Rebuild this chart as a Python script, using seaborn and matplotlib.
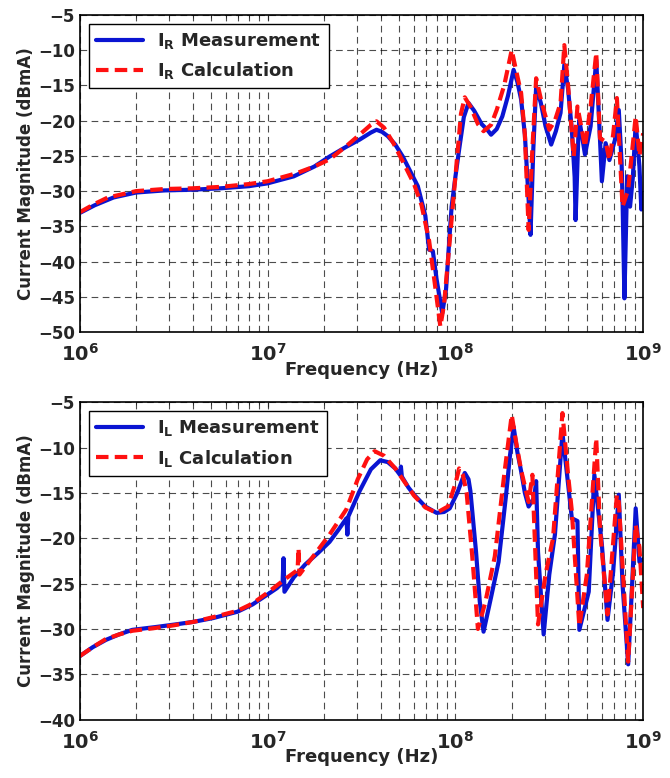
import numpy as np
import pandas as pd
import matplotlib
matplotlib.use("Agg")
import matplotlib.pyplot as plt
import seaborn as sns
from matplotlib.ticker import FixedLocator, FuncFormatter, LogLocator, NullFormatter

# values, frequency given as log10(Hz)
ir_meas_lgf = [6.00, 6.08, 6.18, 6.30, 6.45, 6.60, 6.75, 6.90, 7.00, 7.14, 7.25, 7.33, 7.42, 7.49,
               7.55, 7.58, 7.61, 7.64, 7.68, 7.72, 7.76, 7.80, 7.84, 7.86, 7.88, 7.90, 7.93, 7.95,
               7.97, 7.98, 8.00, 8.02, 8.045, 8.07, 8.10, 8.14, 8.17, 8.19, 8.22, 8.25, 8.28, 8.31,
               8.33, 8.35, 8.37, 8.39, 8.40, 8.415, 8.43, 8.455, 8.48, 8.51, 8.535, 8.56, 8.58, 8.60,
               8.62, 8.635, 8.64, 8.655, 8.66, 8.69, 8.72, 8.75, 8.77, 8.78, 8.80, 8.82, 8.85, 8.87,
               8.885, 8.89, 8.90, 8.915, 8.93, 8.945, 8.96, 8.98, 8.99, 9.00]
ir_meas_db = [-33.1, -32.0, -30.9, -30.2, -29.9, -29.8, -29.6, -29.3, -28.9, -27.9, -26.5, -25.1, -23.7, -22.7,
              -21.7, -21.3, -21.6, -22.2, -23.4, -25.1, -27.2, -29.3, -33.5, -38.3, -38.5, -42.5, -47.3, -44.0,
              -36.0, -32.2, -28.0, -24.1, -19.5, -17.5, -18.6, -20.5, -21.3, -22.0, -21.2, -19.4, -16.5, -12.8,
              -14.5, -17.0, -22.0, -31.2, -36.2, -24.0, -15.2, -17.5, -20.8, -23.4, -21.5, -18.9, -12.1, -15.5,
              -21.3, -28.0, -34.1, -22.0, -19.9, -24.8, -20.8, -11.4, -22.7, -28.6, -23.2, -25.6, -22.7, -18.5,
              -26.0, -31.2, -45.2, -27.9, -32.2, -28.0, -20.4, -26.5, -32.6, -30.3]

ir_calc_lgf = [6.00, 6.08, 6.15, 6.30, 6.45, 6.60, 6.75, 6.90, 7.00, 7.15, 7.25, 7.33, 7.42, 7.49,
               7.55, 7.58, 7.62, 7.67, 7.72, 7.78, 7.82, 7.86, 7.89, 7.92, 7.94, 7.96, 7.99, 8.01,
               8.03, 8.05, 8.08, 8.12, 8.15, 8.19, 8.22, 8.26, 8.30, 8.32, 8.35, 8.37, 8.39, 8.41,
               8.43, 8.46, 8.50, 8.53, 8.56, 8.58, 8.60, 8.63, 8.65, 8.69, 8.72, 8.75, 8.77, 8.80,
               8.82, 8.84, 8.86, 8.89, 8.92, 8.96, 8.98, 9.00]
ir_calc_db = [-33.0, -31.8, -30.9, -30.0, -29.7, -29.6, -29.4, -29.0, -28.6, -27.5, -26.5, -25.5, -23.6, -22.0,
              -20.6, -20.1, -21.0, -23.2, -25.8, -29.0, -32.0, -37.0, -43.0, -49.2, -46.0, -40.0, -31.0, -25.0,
              -19.0, -16.7, -18.0, -20.5, -21.5, -20.6, -18.5, -15.0, -10.0, -12.5, -16.1, -22.0, -35.5, -24.0,
              -14.0, -17.5, -21.3, -20.0, -17.5, -9.3, -15.0, -25.1, -18.0, -23.7, -18.0, -10.4, -22.5, -23.0,
              -25.6, -22.0, -16.8, -32.2, -29.8, -19.4, -25.0, -21.8]

il_meas_lgf = [6.00, 6.07, 6.14, 6.21, 6.28, 6.40, 6.51, 6.61, 6.71, 6.84, 6.92, 7.00, 7.05, 7.08,
               7.085, 7.09, 7.14, 7.20, 7.27, 7.33, 7.38, 7.42, 7.425, 7.43, 7.49, 7.55, 7.60, 7.64,
               7.68, 7.705, 7.71, 7.715, 7.75, 7.78, 7.84, 7.90, 7.94, 7.97, 8.01, 8.05, 8.07, 8.08,
               8.11, 8.13, 8.15, 8.19, 8.23, 8.27, 8.29, 8.31, 8.33, 8.35, 8.37, 8.39, 8.42, 8.43,
               8.44, 8.47, 8.50, 8.53, 8.57, 8.60, 8.62, 8.65, 8.66, 8.71, 8.74, 8.78, 8.81, 8.84,
               8.87, 8.89, 8.92, 8.94, 8.96, 8.98, 9.00]
il_meas_db = [-33.0, -32.0, -31.2, -30.6, -30.1, -29.8, -29.5, -29.2, -28.8, -28.1, -27.3, -26.2, -25.5, -24.9,
              -22.2, -25.9, -24.3, -22.9, -21.6, -20.4, -19.0, -17.8, -19.6, -17.6, -14.8, -12.4, -11.4, -11.6,
              -12.3, -13.0, -12.1, -13.2, -14.4, -15.2, -16.5, -17.2, -17.1, -16.7, -15.0, -12.8, -13.5, -14.8,
              -21.5, -27.0, -30.3, -26.5, -22.6, -15.2, -11.0, -7.7, -10.5, -12.6, -15.0, -16.5, -15.5, -13.7,
              -21.5, -30.6, -24.0, -19.6, -8.4, -14.0, -17.8, -18.1, -30.1, -25.9, -13.0, -20.7, -29.0, -23.7,
              -15.2, -25.1, -33.9, -25.5, -16.7, -22.6, -22.3]

il_calc_lgf = [6.00, 6.07, 6.14, 6.21, 6.28, 6.40, 6.50, 6.61, 6.71, 6.84, 6.92, 7.00, 7.10, 7.16,
               7.165, 7.17, 7.25, 7.33, 7.42, 7.48, 7.53, 7.57, 7.62, 7.68, 7.73, 7.78, 7.84, 7.90,
               7.96, 8.00, 8.02, 8.04, 8.06, 8.09, 8.12, 8.16, 8.21, 8.26, 8.30, 8.32, 8.35, 8.39,
               8.41, 8.44, 8.48, 8.52, 8.57, 8.60, 8.62, 8.66, 8.70, 8.75, 8.77, 8.81, 8.86, 8.87,
               8.92, 8.96, 8.98, 9.00]
il_calc_db = [-33.0, -32.0, -31.1, -30.6, -30.2, -29.9, -29.6, -29.2, -28.7, -28.0, -27.2, -26.0, -24.4, -23.5,
              -21.1, -24.0, -21.8, -19.6, -16.8, -13.5, -11.3, -10.4, -10.9, -12.3, -13.8, -15.3, -16.6, -17.2,
              -16.5, -14.0, -12.3, -13.0, -15.0, -22.0, -30.0, -27.0, -22.0, -13.0, -6.4, -9.0, -12.5, -16.0,
              -13.0, -29.5, -24.0, -20.0, -6.2, -13.0, -17.0, -29.7, -24.0, -9.0, -19.0, -28.4, -15.2, -16.0,
              -33.6, -18.5, -21.0, -27.7]

sns.set_style("white")
plt.rcParams['font.family'] = ['DejaVu Sans']
plt.rcParams['font.weight'] = 'bold'
plt.rcParams['mathtext.default'] = 'bf'

fig = plt.figure(figsize=(6.7, 7.78), dpi=100)
ax1 = fig.add_axes([0.119, 0.573, 0.841, 0.408])
ax2 = fig.add_axes([0.119, 0.075, 0.841, 0.408])

panels = [
    (ax1, ir_meas_lgf, ir_meas_db, ir_calc_lgf, ir_calc_db, 'R', (-50, -5), np.arange(-50, -4, 5)),
    (ax2, il_meas_lgf, il_meas_db, il_calc_lgf, il_calc_db, 'L', (-40, -5), np.arange(-40, -4, 5)),
]

for ax, mx, my, cx, cy, sub, ylim, yt in panels:
    meas = pd.DataFrame({'f': 10.0 ** np.array(mx), 'db': my})
    calc = pd.DataFrame({'f': 10.0 ** np.array(cx), 'db': cy})
    sns.lineplot(data=meas, x='f', y='db', ax=ax, color='#0a14d2', lw=3,
                 estimator=None, sort=False, label=r'$\mathbf{I_{%s}}$ Measurement' % sub)
    sns.lineplot(data=calc, x='f', y='db', ax=ax, color='#ff1010', lw=3, linestyle=(0, (3, 1.5)),
                 estimator=None, sort=False, label=r'$\mathbf{I_{%s}}$ Calculation' % sub)
    ax.set_xscale('log')
    ax.set_xlim(1e6, 1e9)
    ax.set_ylim(*ylim)
    ax.yaxis.set_major_locator(FixedLocator(yt))
    ax.xaxis.set_major_locator(FixedLocator([1e6, 1e7, 1e8, 1e9]))
    ax.xaxis.set_minor_locator(LogLocator(base=10, subs=np.arange(2, 10)))
    ax.xaxis.set_minor_formatter(NullFormatter())
    ax.xaxis.set_major_formatter(FuncFormatter(lambda v, p: r'$\mathbf{10^{%d}}$' % round(np.log10(v))))
    ax.grid(True, which='major', axis='both', color='black', ls=(0, (6, 4)), lw=0.8, alpha=0.7)
    ax.grid(True, which='minor', axis='x', color='black', ls=(0, (6, 4)), lw=0.8, alpha=0.7)
    ax.tick_params(axis='both', which='both', direction='in', top=True, right=True)
    ax.tick_params(axis='x', which='major', labelsize=14, pad=8)
    ax.tick_params(axis='y', labelsize=12)
    for s in ax.spines.values():
        s.set_color('black')
        s.set_linewidth(1.2)
    ax.set_xlabel('Frequency (Hz)', fontsize=13, fontweight='bold', labelpad=-3)
    ax.set_ylabel('Current Magnitude (dBmA)', fontsize=12, fontweight='bold', labelpad=2)
    leg = ax.legend(loc='upper left', fontsize=13, frameon=True, fancybox=False,
                    edgecolor='black', framealpha=1, handlelength=2.6, borderaxespad=0.5)
    leg.get_frame().set_linewidth(1.0)
    for t in leg.get_texts():
        t.set_fontweight('bold')

fig.savefig('out.png', dpi=100)
